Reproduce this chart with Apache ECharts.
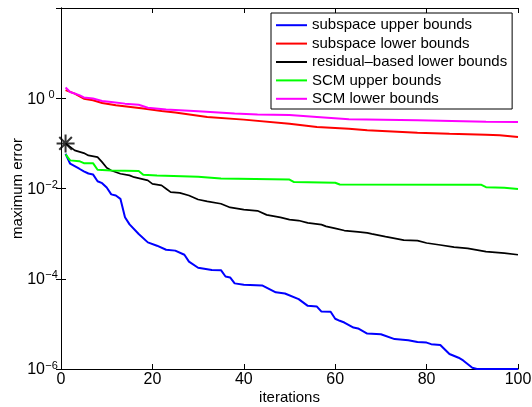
<!DOCTYPE html>
<html>
<head>
<meta charset="utf-8">
<script src="https://cdn.jsdelivr.net/npm/echarts@6/dist/echarts.min.js"></script>
<style>
html,body{margin:0;padding:0;background:#fff;}
#chart{width:532px;height:407px;}
</style>
</head>
<body>
<div id="chart"></div>
<script>
// ---- data (iteration, maximum error) ----
const seriesNames = ['subspace upper bounds','subspace lower bounds','residual\u2013based lower bounds','SCM upper bounds','SCM lower bounds'];
const xTicks = [0, 20, 40, 60, 80, 100];
const yTickExponents = [-6, -4, -2, 0, 2];

const subspaceUpper = [[1,0.059],[2,0.0354],[4,0.0274],[5,0.024],[6,0.0215],[7,0.0205],[8,0.0145],[9,0.0131],[10,0.0105],[11,0.0074],[12,0.007],[13,0.0059],[14,0.0023],[15,0.0016],[17,0.00098],[19,0.00064],[21,0.00054],[23,0.00044],[25,0.00042],[27,0.00034],[28,0.00024],[30,0.000175],[33,0.000156],[35,0.000155],[36,0.000112],[37,0.000107],[38,0.000079],[40,0.000074],[44,0.000071],[47,0.00005],[49,0.000047],[52,0.0000354],[54,0.0000251],[56,0.0000242],[57,0.0000187],[59,0.0000185],[60,0.000013],[61,0.0000117],[62,0.0000107],[64,0.0000083],[65,0.0000079],[67,0.0000061],[70,0.0000059],[73,0.0000046],[76,0.00000435],[78,0.00000395],[80,0.00000385],[81,0.00000355],[83,0.0000034],[85,0.00000215],[87,0.00000178],[88,0.00000155],[90,0.00000107],[91,0.000001],[100,0.000001]];
const subspaceLower = [[1,1.51],[3,1.27],[5,0.975],[7,0.9],[9,0.787],[12,0.7],[18,0.59],[22,0.522],[25,0.481],[32,0.384],[40,0.336],[50,0.271],[56,0.23],[63,0.212],[67,0.195],[78,0.173],[85,0.164],[93,0.156],[96,0.151],[100,0.138]];
const residualLower = [[1,0.1],[3,0.07],[5,0.061],[6,0.054],[8,0.0497],[9,0.0384],[10,0.0288],[11,0.0251],[13,0.0212],[15,0.0195],[16,0.0178],[19,0.0151],[20,0.0127],[22,0.0117],[23,0.0099],[24,0.0083],[26,0.008],[28,0.007],[30,0.0057],[32,0.0052],[35,0.0046],[37,0.0038],[40,0.0034],[43,0.0032],[45,0.0026],[48,0.0023],[50,0.00205],[52,0.00195],[54,0.00173],[57,0.00158],[58,0.00145],[60,0.00131],[62,0.00117],[65,0.00109],[67,0.00104],[68,0.00099],[71,0.00086],[75,0.00072],[78,0.0007],[80,0.00062],[83,0.00056],[86,0.0005],[89,0.00047],[93,0.0004],[97,0.00037],[100,0.00034]];
const scmUpper = [[1,0.057],[2,0.042],[4,0.0404],[5,0.0365],[7,0.0365],[8,0.026],[11,0.0251],[17,0.0245],[18,0.0201],[21,0.0195],[30,0.0183],[35,0.0167],[50,0.0158],[51,0.0139],[60,0.0134],[61,0.0123],[92,0.0121],[93,0.0107],[97,0.0104],[100,0.0098]];
const scmLower = [[1,1.73],[2,1.38],[4,1.17],[5,1.04],[7,0.985],[9,0.87],[11,0.83],[14,0.76],[17,0.72],[19,0.615],[23,0.56],[30,0.514],[38,0.457],[43,0.434],[50,0.424],[56,0.384],[63,0.341],[78,0.324],[93,0.303],[100,0.297]];
const startMarker = [[1, 0.1]];

const colors = ['#0000ff','#ff0000','#000000','#00ff00','#ff00ff'];
const FONT = 'Liberation Sans, Arial, Helvetica, sans-serif';

const chart = echarts.init(document.getElementById('chart'), null, {renderer:'canvas'});

const commonAxisLine = {show:true, lineStyle:{color:'#000', width:1}};
const yLabelFormatter = function(v){
  const e = Math.round(Math.log10(v));
  if (e === 2) return '';
  const s = e < 0 ? '\u2212' + Math.abs(e) : String(e);
  return '{b|10}{s|' + s + '}';
};

const dataSets = [subspaceUpper, subspaceLower, residualLower, scmUpper, scmLower];
const series = dataSets.map(function(d, k){
  return {
    name: seriesNames[k], type:'line', data: d, showSymbol:false, symbol:'none',
    lineStyle:{color: colors[k], width: k===2 ? 1.7 : 2},
    itemStyle:{color: colors[k]}, animation:false, clip:true, z: 2
  };
});
series.push({
  name:'start', type:'scatter', data:startMarker, symbolSize:18,
  symbol:'path://M0,-10L0,10M-10,0L10,0M-7,-7L7,7M-7,7L7,-7',
  itemStyle:{color:'none', borderColor:'#000', borderWidth:2}, z:5, animation:false
});

chart.setOption({
  backgroundColor:'#fff',
  animation:false,
  grid:{left:61, right:14, top:8, bottom:38, containLabel:false, outerBoundsMode:'none'},
  legend:{
    data: seriesNames.map(function(n,k){return {name:n, icon:'rect', itemStyle:{color:colors[k]}};}),
    orient:'vertical', left:271, top:13, z:10,
    backgroundColor:'#fff', borderColor:'#000', borderWidth:1,
    padding:[3,5,1,5], itemGap:0, itemWidth:31, itemHeight:2,
    textStyle:{fontFamily:FONT, fontSize:15, color:'#000', lineHeight:18.4},
    selectedMode:false
  },
  xAxis:[{
    type:'value', min:0, max:100, interval:20, position:'bottom',
    axisLine:commonAxisLine, axisTick:{show:true, inside:true, length:5, lineStyle:{color:'#000'}},
    splitLine:{show:false},
    axisLabel:{fontFamily:FONT, fontSize:16, color:'#000', margin:3,
      formatter:function(v){return xTicks.indexOf(v)>=0 ? String(v) : '';}},
    name:'iterations', nameLocation:'middle', nameGap:21, nameMoveOverlap:false,
    nameTextStyle:{fontFamily:FONT, fontSize:15, color:'#000'}
  },{
    type:'value', min:0, max:100, interval:20, position:'top',
    axisLine:commonAxisLine, axisTick:{show:true, inside:true, length:5, lineStyle:{color:'#000'}},
    axisLabel:{show:false}, splitLine:{show:false}
  }],
  yAxis:[{
    type:'log', logBase:10, min:1e-6, max:100, interval:2, position:'left',
    axisLine:commonAxisLine, axisTick:{show:true, inside:true, length:5, lineStyle:{color:'#000'}},
    splitLine:{show:false}, minorTick:{show:false},
    axisLabel:{fontFamily:FONT, color:'#000', margin:3, formatter:yLabelFormatter,
      rich:{
        b:{fontFamily:FONT, fontSize:16, color:'#000', lineHeight:18, verticalAlign:'bottom'},
        s:{fontFamily:FONT, fontSize:11, color:'#000', width:13, align:'left', lineHeight:18, verticalAlign:'top', padding:[0,0,6,0]}
      }},
    name:'maximum error', nameLocation:'middle', nameGap:36, nameRotate:90, nameMoveOverlap:false,
    nameTextStyle:{fontFamily:FONT, fontSize:15, color:'#000'}
  },{
    type:'log', logBase:10, min:1e-6, max:100, interval:2, position:'right',
    axisLine:commonAxisLine, axisTick:{show:true, inside:true, length:5, lineStyle:{color:'#000'}},
    axisLabel:{show:false}, splitLine:{show:false}
  }],
  series: series
});
</script>
</body>
</html>
